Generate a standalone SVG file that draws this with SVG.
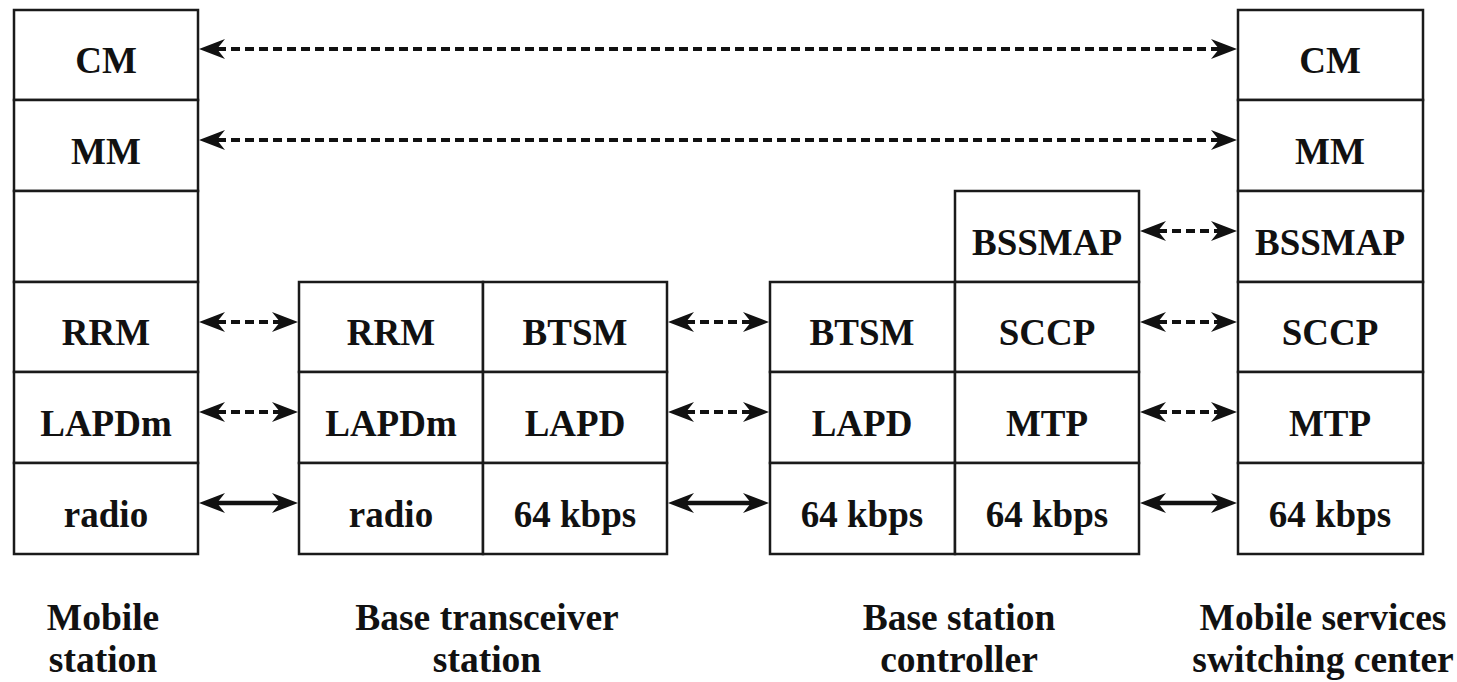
<svg xmlns="http://www.w3.org/2000/svg" width="1457" height="682" viewBox="0 0 1457 682">
<style>
  .box { fill: #fff; stroke: #1a1a1a; stroke-width: 2.5; }
  .lbl { font-family: "Liberation Serif", "Times New Roman", serif; font-weight: bold; font-size: 37px; fill: #111; text-anchor: middle; }
  .cap { font-family: "Liberation Serif", "Times New Roman", serif; font-weight: bold; font-size: 37.5px; fill: #111; text-anchor: middle; }
  .dash { stroke: #111; stroke-width: 4; stroke-dasharray: 9 5; fill: none; marker-start: url(#ah); marker-end: url(#ah); }
  .solid { stroke: #111; stroke-width: 4.5; fill: none; marker-start: url(#ah); marker-end: url(#ah); }
</style>
<defs>
  <marker id="ah" markerUnits="userSpaceOnUse" markerWidth="26" markerHeight="20" refX="8" refY="10" orient="auto-start-reverse" viewBox="0 0 26 20">
    <path d="M0,0 L26,10 L0,20 L8,10 Z" fill="#111"/>
  </marker>
</defs>
<rect width="1457" height="682" fill="#fff"/>

<g id="mobile-station">
  <rect class="box" x="14" y="10" width="184" height="90"/>
  <rect class="box" x="14" y="100" width="184" height="91"/>
  <rect class="box" x="14" y="191" width="184" height="91"/>
  <rect class="box" x="14" y="282" width="184" height="90"/>
  <rect class="box" x="14" y="372" width="184" height="91"/>
  <rect class="box" x="14" y="463" width="184" height="91"/>
  <text class="lbl" x="106" y="73">CM</text>
  <text class="lbl" x="106" y="164">MM</text>
  <text class="lbl" x="106" y="345">RRM</text>
  <text class="lbl" x="106" y="436">LAPDm</text>
  <text class="lbl" x="106" y="527">radio</text>
  <text class="cap" x="103" y="630">Mobile</text>
  <text class="cap" x="103" y="672">station</text>
</g>

<g id="base-transceiver-station">
  <rect class="box" x="299" y="282" width="184" height="90"/>
  <rect class="box" x="483" y="282" width="184" height="90"/>
  <rect class="box" x="299" y="372" width="184" height="91"/>
  <rect class="box" x="483" y="372" width="184" height="91"/>
  <rect class="box" x="299" y="463" width="184" height="91"/>
  <rect class="box" x="483" y="463" width="184" height="91"/>
  <text class="lbl" x="391" y="345">RRM</text>
  <text class="lbl" x="575" y="345">BTSM</text>
  <text class="lbl" x="391" y="436">LAPDm</text>
  <text class="lbl" x="575" y="436">LAPD</text>
  <text class="lbl" x="391" y="527">radio</text>
  <text class="lbl" x="575" y="527">64 kbps</text>
  <text class="cap" x="487" y="630">Base transceiver</text>
  <text class="cap" x="487" y="672">station</text>
</g>

<g id="base-station-controller">
  <rect class="box" x="955" y="191" width="184" height="91"/>
  <rect class="box" x="770" y="282" width="185" height="90"/>
  <rect class="box" x="955" y="282" width="184" height="90"/>
  <rect class="box" x="770" y="372" width="185" height="91"/>
  <rect class="box" x="955" y="372" width="184" height="91"/>
  <rect class="box" x="770" y="463" width="185" height="91"/>
  <rect class="box" x="955" y="463" width="184" height="91"/>
  <text class="lbl" x="1047" y="255">BSSMAP</text>
  <text class="lbl" x="862" y="345">BTSM</text>
  <text class="lbl" x="1047" y="345">SCCP</text>
  <text class="lbl" x="862" y="436">LAPD</text>
  <text class="lbl" x="1047" y="436">MTP</text>
  <text class="lbl" x="862" y="527">64 kbps</text>
  <text class="lbl" x="1047" y="527">64 kbps</text>
  <text class="cap" x="959" y="630">Base station</text>
  <text class="cap" x="959" y="672">controller</text>
</g>

<g id="msc">
  <rect class="box" x="1238" y="10" width="185" height="90"/>
  <rect class="box" x="1238" y="100" width="185" height="91"/>
  <rect class="box" x="1238" y="191" width="185" height="91"/>
  <rect class="box" x="1238" y="282" width="185" height="90"/>
  <rect class="box" x="1238" y="372" width="185" height="91"/>
  <rect class="box" x="1238" y="463" width="185" height="91"/>
  <text class="lbl" x="1330" y="73">CM</text>
  <text class="lbl" x="1330" y="164">MM</text>
  <text class="lbl" x="1330" y="255">BSSMAP</text>
  <text class="lbl" x="1330" y="345">SCCP</text>
  <text class="lbl" x="1330" y="436">MTP</text>
  <text class="lbl" x="1330" y="527">64 kbps</text>
  <text class="cap" x="1323" y="630">Mobile services</text>
  <text class="cap" x="1323" y="672">switching center</text>
</g>

<g id="connectors">
  <line class="dash" x1="217" y1="49" x2="1219" y2="49"/>
  <line class="dash" x1="217" y1="140" x2="1219" y2="140"/>
  <line class="dash" x1="217" y1="322" x2="280" y2="322"/>
  <line class="dash" x1="217" y1="412" x2="280" y2="412"/>
  <line class="solid" x1="217" y1="503" x2="280" y2="503"/>
  <line class="dash" x1="686" y1="322" x2="751" y2="322"/>
  <line class="dash" x1="686" y1="412" x2="751" y2="412"/>
  <line class="solid" x1="686" y1="503" x2="751" y2="503"/>
  <line class="dash" x1="1158" y1="231" x2="1219" y2="231"/>
  <line class="dash" x1="1158" y1="322" x2="1219" y2="322"/>
  <line class="dash" x1="1158" y1="412" x2="1219" y2="412"/>
  <line class="solid" x1="1158" y1="503" x2="1219" y2="503"/>
</g>
</svg>
